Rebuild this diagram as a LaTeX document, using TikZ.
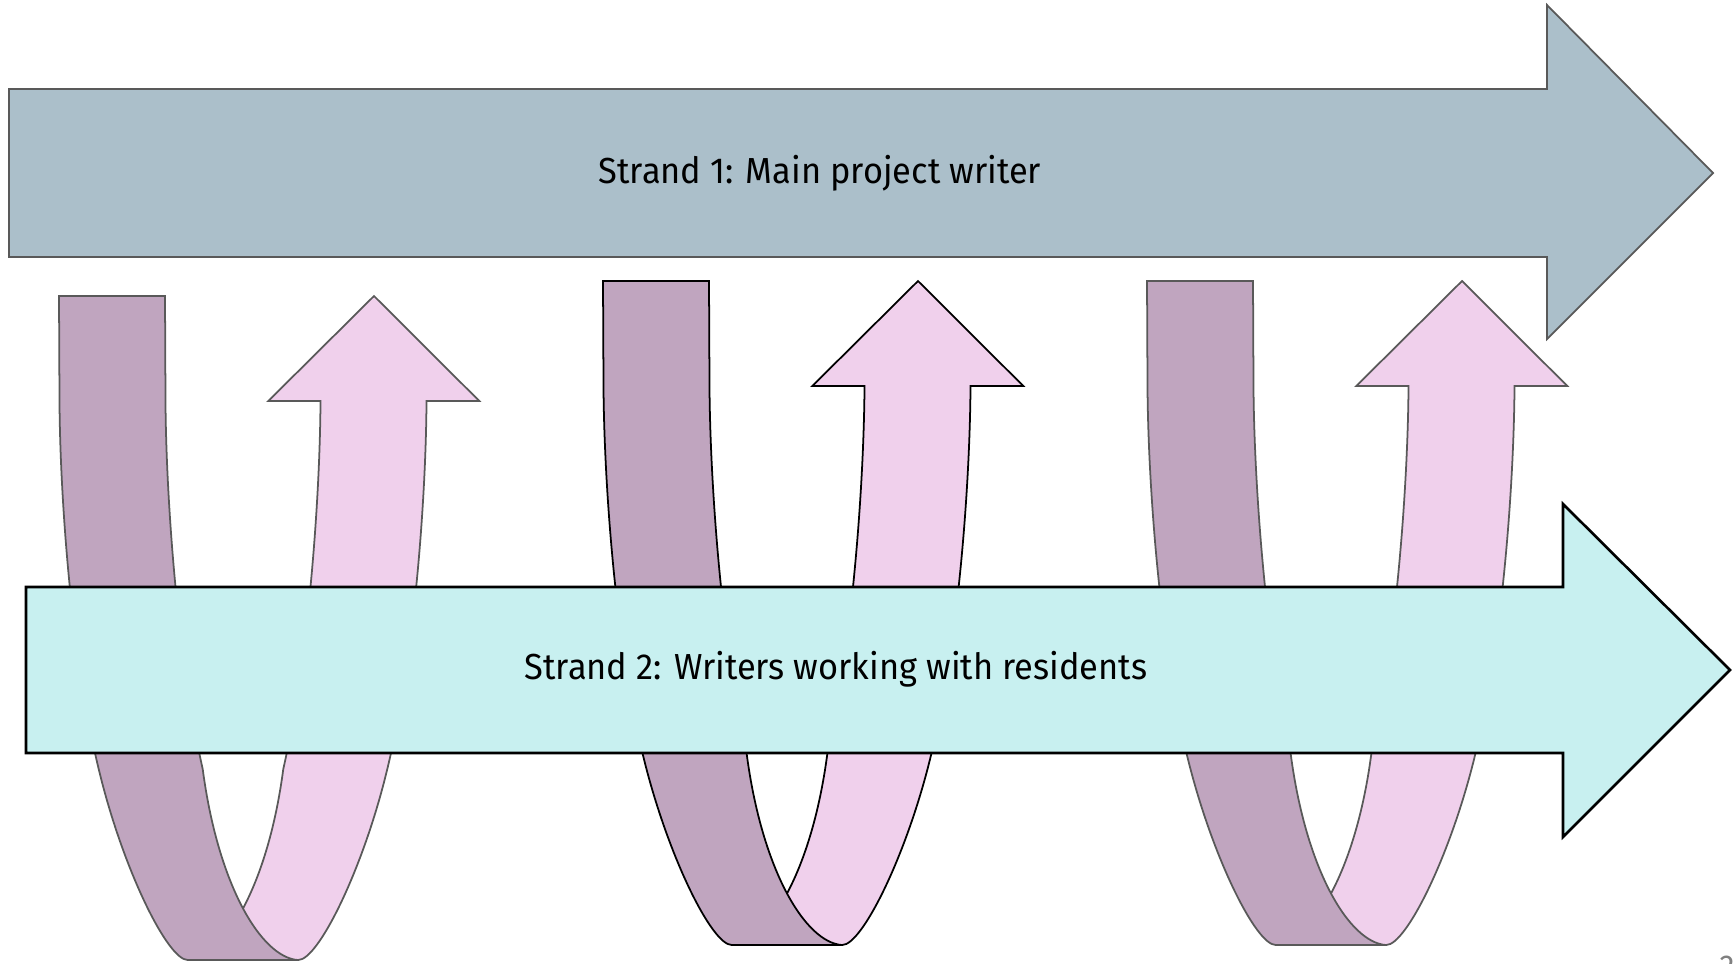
\documentclass[tikz,border=0pt]{standalone}
\usepackage{fontspec}
\setmainfont{Fira Sans}[FakeStretch=0.95]
\definecolor{strandone}{HTML}{ABBFCA}
\definecolor{strandtwo}{HTML}{C8F0F0}
\definecolor{mauveband}{HTML}{C0A5BF}
\definecolor{pinkband}{HTML}{F0D0EC}
\definecolor{edgegray}{HTML}{595959}
\newcommand\drawribbon[1]{%
  \path[fill=pinkband, draw=#1, line width=0.5pt, line join=miter]
    (131,281) -- (236.3,386) -- (183.5,386)
    .. controls (183,480) and (172,640) .. (144.3,754)
    .. controls (120.3,854) and (75.3,945) .. (55.3,945)
    -- (-54.7,945)
    .. controls (-18,942) and (25,870) .. (40.3,754)
    .. controls (66,640) and (77,480) .. (77.5,386)
    -- (25.3,386) -- cycle;
  \path[fill=mauveband, draw=#1, line width=0.5pt]
    (-184,281) -- (-78,281) -- (-77.5,386)
    .. controls (-77,480) and (-66,640) .. (-40.3,754)
    .. controls (-25,870) and (18,942) .. (54.7,945)
    -- (-55.3,945)
    .. controls (-75.3,945) and (-120.3,854) .. (-144.3,754)
    .. controls (-172,640) and (-183,480) .. (-183.5,386) -- cycle;
}
\begin{document}
\begin{tikzpicture}[x=0.01cm, y=-0.01cm,
  strandfont/.style={font=\fontsize{10.3}{12}\selectfont, text=black, inner sep=0pt}]
\useasboundingbox (0,0) rectangle (1733,963);
% Strand 1 arrow
\draw[fill=strandone, draw=edgegray, line width=0.5pt]
  (9,89) -- (1547,89) -- (1547,5) -- (1713,173) -- (1547,339) -- (1547,257) -- (9,257) -- cycle;
\node[strandfont, anchor=base] (s1) at (820,183) {Strand 1: Main project writer};
% ribbons
\begin{scope}[shift={(243,15)}] \drawribbon{edgegray} \end{scope}
\begin{scope}[shift={(787,0)}] \drawribbon{black} \end{scope}
\begin{scope}[shift={(1331,0)}] \drawribbon{edgegray} \end{scope}
% Strand 2 arrow
\draw[fill=strandtwo, draw=black, line width=0.75pt]
  (26,587) -- (1563,587) -- (1563,504) -- (1730,670) -- (1563,837) -- (1563,753) -- (26,753) -- cycle;
\node[strandfont, anchor=base] (s2) at (836,679) {Strand 2: Writers working with residents};
\node[font=\fontsize{9}{10}\selectfont, text=gray, anchor=north, inner sep=0pt] (pg) at (1727,955) {2};
\end{tikzpicture}
\end{document}
